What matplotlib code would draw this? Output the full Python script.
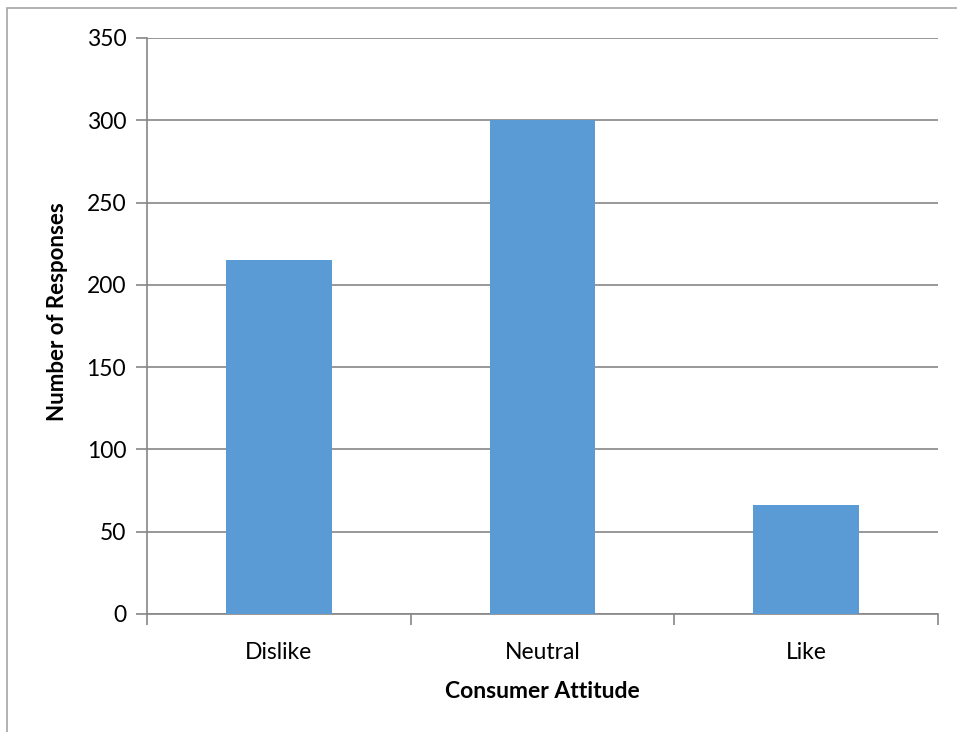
import numpy as np
import matplotlib.pyplot as plt
from matplotlib.patches import Rectangle

categories = ['Dislike', 'Neutral', 'Like']
responses = [215, 300, 66]

plt.rcParams['font.family'] = ['Lato', 'DejaVu Sans']

fig = plt.figure(figsize=[9.57, 7.32], dpi=100, facecolor='white')
# outer chart frame (Excel style), only left/top visible in the reference
fig.patches.append(Rectangle((7/957, -0.1), 1.2, (732 - 8)/732 + 0.1,
                             transform=fig.transFigure, fill=False,
                             edgecolor='#a6a6a6', linewidth=1.2))

ax = fig.add_axes([147/957, 1 - 614/732, (938 - 147)/957, (614 - 38)/732])
x = np.arange(len(categories))
ax.bar(x, responses, width=0.4, color='#5b9bd5', zorder=3)

ax.set_xlim(-0.5, len(categories) - 0.5)
ax.set_ylim(0, 350)
ax.set_yticks(np.arange(0, 351, 50))
ax.set_xticks(x)
ax.set_xticklabels(categories)
ax.set_xticks(np.arange(-0.5, len(categories)), minor=True)
ax.yaxis.grid(True, color='#868686', linewidth=1.2, zorder=0)

for s in ['top', 'right']:
    ax.spines[s].set_visible(False)
for s in ['left', 'bottom']:
    ax.spines[s].set_color('#868686')
    ax.spines[s].set_linewidth(1.2)

ax.tick_params(axis='y', length=8, width=1.2, color='#868686', labelsize=16.5, pad=7)
ax.tick_params(axis='x', which='major', length=0, labelsize=16.5, pad=20)
ax.tick_params(axis='x', which='minor', length=8, width=1.2, color='#868686')

ax.set_xlabel('Consumer Attitude', fontsize=16.5, fontweight='bold', labelpad=13)
ax.set_ylabel('Number of Responses', fontsize=16, fontweight='bold')
ax.yaxis.set_label_coords(-0.1, 0.525)

fig.savefig('out.png', dpi=100)
